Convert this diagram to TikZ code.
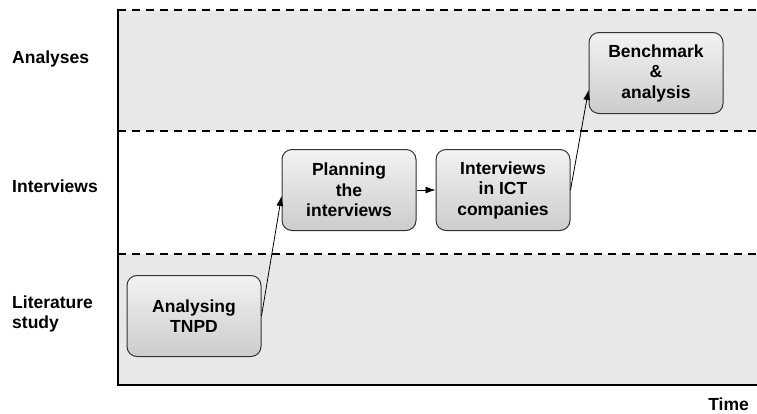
\documentclass[tikz,border=0pt]{standalone}
\usepackage{fontspec}
\setmainfont{Liberation Sans}
\usetikzlibrary{arrows.meta}
\begin{document}
\begin{tikzpicture}[x=1pt,y=-1pt,
  stepbox/.style={draw=black!80, line width=1pt, rounded corners=10pt,
    top color=gray!10, bottom color=gray!40, minimum width=134pt, minimum height=81pt,
    inner sep=0pt, align=center, font=\bfseries\fontsize{17.5}{20.5}\selectfont},
  lanelabel/.style={anchor=west, align=left, inner sep=0pt, font=\bfseries\fontsize{17.5}{19.5}\selectfont},
  lanesep/.style={line width=1.8pt, dash pattern=on 8pt off 6pt},
  flow/.style={-{Latex[length=10pt,width=7pt]}, line width=0.8pt}]
\useasboundingbox (0,0) rectangle (757,413);
% bands
\fill[gray!18] (118,10) rectangle (757,131);
\fill[gray!18] (118,254) rectangle (757,385);
% separators
\coordinate (s1a) at (118,10); \coordinate (s1b) at (757,10);
\coordinate (s2a) at (118,131); \coordinate (s2b) at (757,131);
\coordinate (s3a) at (118,254); \coordinate (s3b) at (757,254);
\draw[lanesep] (s1a) -- (s1b);
\draw[lanesep] (s2a) -- (s2b);
\draw[lanesep] (s3a) -- (s3b);
% axes
\coordinate (origin) at (118,385);
\coordinate (ytop) at (118,9);
\coordinate (xend) at (757,385);
\draw[line width=2.4pt] (ytop) -- (origin) -- (xend);
% lane labels
\node[lanelabel] (lA) at (12,59) {Analyses};
\node[lanelabel] (lI) at (12,186) {Interviews};
\node[lanelabel] (lL) at (12,314) {Literature\\study};
\node[anchor=east, inner sep=0pt, font=\bfseries\fontsize{17.5}{20}\selectfont] (time) at (749,404) {Time};
% boxes
\node[stepbox] (tnpd) at (194,316) {Analysing\\TNPD};
\node[stepbox] (plan) at (349,190) {Planning\\the\\interviews};
\node[stepbox] (ict) at (503,190) {Interviews\\in ICT\\companies};
\node[stepbox] (bench) at (656,73) {Benchmark\\\&\\analysis};
% connectors
\draw[flow] (tnpd.east) -- ([yshift=-6pt]plan.west);
\draw[flow] (plan.east) -- (ict.west);
\draw[flow] (ict.east) -- ([yshift=-17pt]bench.west);
\end{tikzpicture}
\end{document}
